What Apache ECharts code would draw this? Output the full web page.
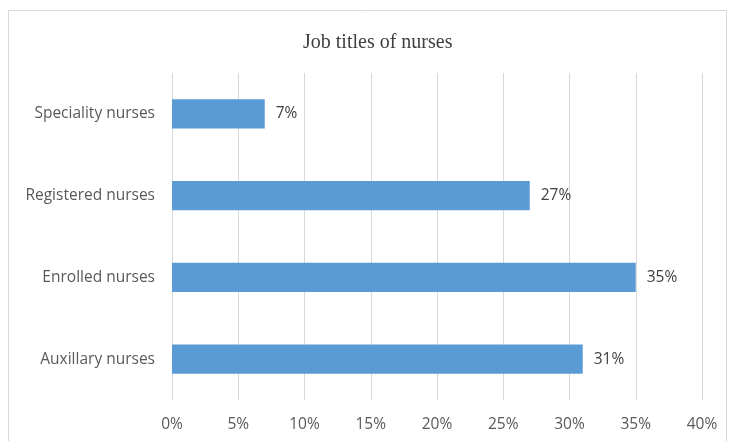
<!DOCTYPE html>
<html>
<head>
<meta charset="utf-8">
<script src="https://cdn.jsdelivr.net/npm/echarts@6/dist/echarts.min.js"></script>
<style>
  html, body { margin: 0; padding: 0; background: #fff; }
  #chart { width: 729px; height: 441px; }
</style>
</head>
<body>
<div id="chart"></div>
<script>
// Nurse job titles, top to bottom
const categories = ['Speciality nurses', 'Registered nurses', 'Enrolled nurses', 'Auxillary nurses'];
// Share of nurses per job title (%)
const shares = [7, 27, 35, 31];
// Percentage axis ticks
const tickValues = [0, 5, 10, 15, 20, 25, 30, 35, 40];

const labelFont = '"Open Sans", Lato, sans-serif';
const chart = echarts.init(document.getElementById('chart'), null, { renderer: 'canvas' });

chart.setOption({
  backgroundColor: '#ffffff',
  animation: false,
  title: {
    text: 'Job titles of nurses',
    left: 298,
    top: 28,
    textStyle: {
      fontFamily: '"Liberation Serif", "DejaVu Serif", serif',
      fontSize: 20,
      fontWeight: 'normal',
      color: '#404040'
    }
  },
  graphic: [{
    type: 'rect',
    shape: { x: 8.5, y: 10.5, width: 718, height: 440 },
    style: { fill: 'none', stroke: '#d9d9d9', lineWidth: 1 },
    silent: true
  }],
  grid: { left: 172, right: 27, top: 73, bottom: 41, containLabel: false },
  xAxis: {
    type: 'value',
    min: tickValues[0],
    max: tickValues[tickValues.length - 1],
    interval: 5,
    axisLine: { show: false },
    axisTick: { show: false },
    splitLine: { show: true, lineStyle: { color: '#d9d9d9', width: 1 } },
    axisLabel: {
      formatter: v => v + '%',
      color: '#595959',
      fontFamily: labelFont,
      fontSize: 15.5,
      margin: 17
    }
  },
  yAxis: {
    type: 'category',
    data: categories,
    inverse: true,
    axisLine: { show: false },
    axisTick: { show: false },
    splitLine: { show: false },
    axisLabel: {
      color: '#595959',
      fontFamily: labelFont,
      fontSize: 15.5,
      margin: 17,
      padding: [4, 0, 0, 0]
    }
  },
  series: [{
    type: 'bar',
    data: shares,
    barCategoryGap: '64.5%',
    itemStyle: { color: '#5b9bd5' },
    label: {
      show: true,
      position: 'right',
      distance: 11,
      padding: [4, 0, 0, 0],
      formatter: p => p.value + '%',
      color: '#404040',
      fontFamily: labelFont,
      fontSize: 15.5
    }
  }]
});
</script>
</body>
</html>
